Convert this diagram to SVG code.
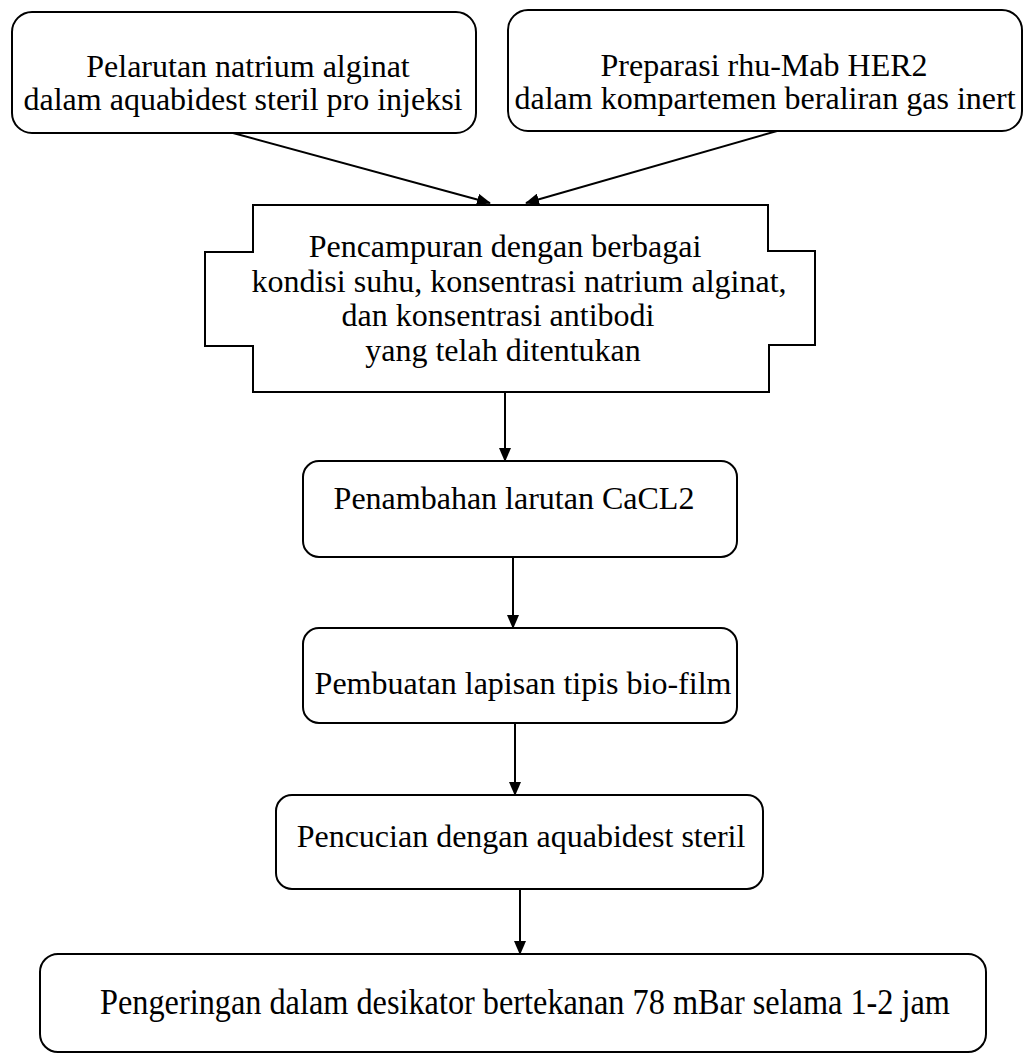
<svg xmlns="http://www.w3.org/2000/svg" width="1025" height="1060" viewBox="0 0 1025 1060">
  <style>
    .box { fill: #ffffff; stroke: #000000; stroke-width: 2; }
    .lbl { font-family: "Liberation Serif", "Times New Roman", serif; font-size: 32px; fill: #000000; text-anchor: middle; }
    .edge { stroke: #000000; stroke-width: 2; fill: none; marker-end: url(#arrow); }
  </style>
  <defs>
    <marker id="arrow" viewBox="0 0 14 12" refX="13" refY="6" markerWidth="14" markerHeight="12" markerUnits="userSpaceOnUse" orient="auto">
      <path d="M0,0 L14,6 L0,12 Z" fill="#000000"/>
    </marker>
  </defs>
  <rect width="1025" height="1060" fill="#ffffff"/>

  <g id="connectors">
    <line class="edge" x1="233" y1="133" x2="490" y2="203"/>
    <line class="edge" x1="777" y1="131" x2="526" y2="203"/>
    <line class="edge" x1="505" y1="392" x2="505" y2="461"/>
    <line class="edge" x1="513" y1="557" x2="513" y2="628"/>
    <line class="edge" x1="515" y1="723" x2="515" y2="795"/>
    <line class="edge" x1="520" y1="889" x2="520" y2="954"/>
  </g>

  <g id="node-pelarutan">
    <rect class="box" x="12" y="12" width="464" height="121" rx="20" ry="20"/>
    <text class="lbl" x="248" y="77">Pelarutan natrium alginat</text>
    <text class="lbl" x="243" y="110">dalam aquabidest steril pro injeksi</text>
  </g>

  <g id="node-preparasi">
    <rect class="box" x="508" y="10" width="514" height="121" rx="20" ry="20"/>
    <text class="lbl" x="764" y="76">Preparasi rhu-Mab HER2</text>
    <text class="lbl" x="765" y="109">dalam kompartemen beraliran gas inert</text>
  </g>

  <g id="node-pencampuran">
    <path class="box" d="M253,205 L768,205 L768,251 L815,251 L815,345 L769,345 L769,392 L253,392 L253,346 L205,346 L205,252 L253,252 Z"/>
    <text class="lbl" x="505" y="257">Pencampuran dengan berbagai</text>
    <text class="lbl" x="519" y="292">kondisi suhu, konsentrasi natrium alginat,</text>
    <text class="lbl" x="498" y="326">dan konsentrasi antibodi</text>
    <text class="lbl" x="503" y="361">yang telah ditentukan</text>
  </g>

  <g id="node-penambahan">
    <rect class="box" x="303" y="461" width="434" height="96" rx="16" ry="16"/>
    <text class="lbl" x="514" y="509">Penambahan larutan CaCL2</text>
  </g>

  <g id="node-pembuatan">
    <rect class="box" x="303" y="628" width="434" height="95" rx="16" ry="16"/>
    <text class="lbl" x="523" y="694">Pembuatan lapisan tipis bio-film</text>
  </g>

  <g id="node-pencucian">
    <rect class="box" x="276" y="795" width="487" height="94" rx="16" ry="16"/>
    <text class="lbl" x="521" y="847">Pencucian dengan aquabidest steril</text>
  </g>

  <g id="node-pengeringan">
    <rect class="box" x="40" y="954" width="946" height="98" rx="18" ry="18"/>
    <text class="lbl" x="525" y="1014" style="font-size:35px" textLength="850" lengthAdjust="spacingAndGlyphs">Pengeringan dalam desikator bertekanan 78 mBar selama 1-2 jam</text>
  </g>
</svg>
